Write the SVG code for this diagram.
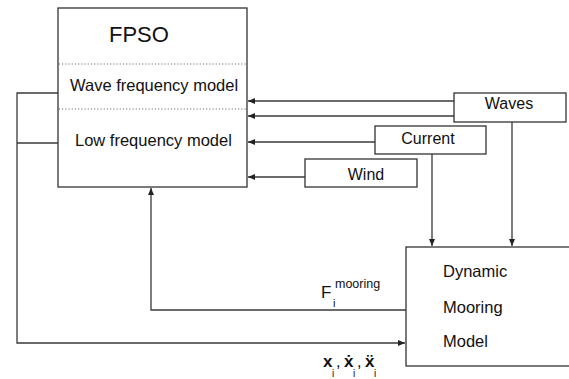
<svg xmlns="http://www.w3.org/2000/svg" width="569" height="379" viewBox="0 0 569 379">
<style>
.box{fill:#fff;stroke:#333;stroke-width:1.3}
.ln{fill:none;stroke:#3a3a3a;stroke-width:1.3}
.dot{stroke:#555;stroke-width:1;stroke-dasharray:1 2.2}
text{font-family:"Liberation Sans",Arial,sans-serif;fill:#111}
.lbl{font-size:16px}
.big{font-size:16.5px}
.xv{font-size:17px;font-weight:bold}
.sub{font-size:10px}
</style>
<defs>
<marker id="ah" markerWidth="8" markerHeight="7" refX="7" refY="3" orient="auto" markerUnits="userSpaceOnUse">
<path d="M0,0 L7,3 L0,6 z" fill="#222"/>
</marker>
</defs>
<rect width="569" height="379" fill="#fff"/>
<g id="fpso">
<rect class="box" x="58" y="8" width="189" height="179"/>
<line class="dot" x1="59" y1="64" x2="246" y2="64"/>
<line class="dot" x1="59" y1="109" x2="246" y2="109"/>
<text x="109" y="42" font-size="22">FPSO</text>
<text class="big" x="70" y="91">Wave frequency model</text>
<text class="big" x="75" y="146">Low frequency model</text>
</g>
<g id="waves">
<rect class="box" x="454" y="93" width="112" height="29"/>
<text class="lbl" x="509" y="109" text-anchor="middle">Waves</text>
</g>
<g id="current">
<rect class="box" x="375" y="126" width="111" height="28"/>
<text class="lbl" x="428" y="144" text-anchor="middle">Current</text>
</g>
<g id="wind">
<rect class="box" x="305" y="159" width="112" height="28"/>
<text class="lbl" x="366" y="180" text-anchor="middle">Wind</text>
</g>
<g id="dmm">
<rect class="box" x="406" y="247" width="170" height="119"/>
<text class="big" x="443" y="277">Dynamic</text>
<text class="big" x="443" y="313">Mooring</text>
<text class="big" x="443" y="347">Model</text>
</g>
<g id="connectors">
<line class="ln" x1="454" y1="101" x2="248" y2="101" marker-end="url(#ah)"/>
<line class="ln" x1="454" y1="116" x2="248" y2="116" marker-end="url(#ah)"/>
<line class="ln" x1="375" y1="142" x2="248" y2="142" marker-end="url(#ah)"/>
<line class="ln" x1="305" y1="177" x2="248" y2="177" marker-end="url(#ah)"/>
<line class="ln" x1="432" y1="154" x2="432" y2="246" marker-end="url(#ah)"/>
<line class="ln" x1="512" y1="122" x2="512" y2="246" marker-end="url(#ah)"/>
<path class="ln" d="M406,310 H151 V188" marker-end="url(#ah)"/>
<path class="ln" d="M58,93 H17 V343 H405" marker-end="url(#ah)"/>
<line class="ln" x1="17" y1="143" x2="58" y2="143"/>
</g>
<g id="labels">
<text x="321" y="298" font-size="17">F</text>
<text x="335" y="288" font-size="12.5">mooring</text>
<text x="333" y="307" font-size="11">i</text>
<text x="323" y="367" class="xv">x</text>
<text x="332" y="377" class="sub">i</text>
<text x="336" y="367" font-size="16">,</text>
<text x="344" y="367" class="xv">ẋ</text>
<text x="353" y="377" class="sub">i</text>
<text x="357" y="367" font-size="16">,</text>
<text x="365" y="367" class="xv">ẍ</text>
<text x="374" y="377" class="sub">i</text>
</g>
</svg>
